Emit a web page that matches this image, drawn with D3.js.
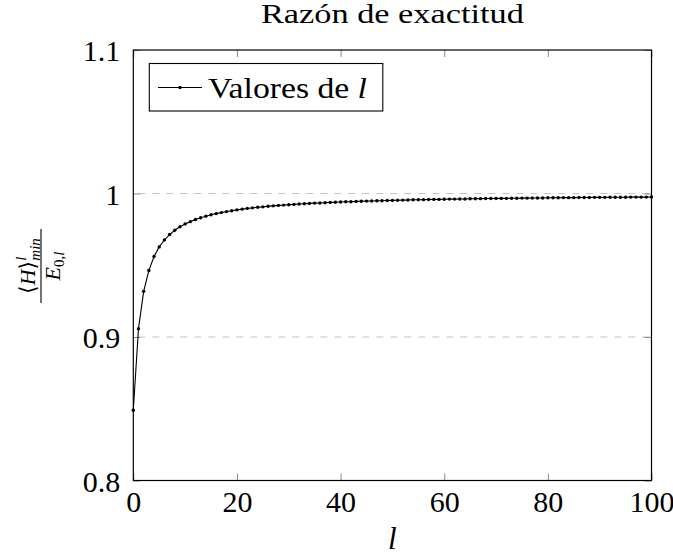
<!DOCTYPE html>
<html>
<head>
<meta charset="utf-8">
<script src="https://cdn.jsdelivr.net/npm/d3@7"></script>
<style>
  body { margin: 0; background: #fff; }
  svg text { font-family: "Liberation Serif", "DejaVu Serif", serif; fill: #000; }
</style>
</head>
<body>
<svg id="chart" width="673" height="560"></svg>
<script>
// l = 0..100, ratio <H>^l_min / E_0,l
var lValues = d3.range(0, 101);
var ratio = [
  0.8490, 0.9058, 0.9318, 0.9463, 0.9561, 0.9628, 0.9676, 0.9714, 0.9744, 0.9768,
  0.9788, 0.9804, 0.9819, 0.9831, 0.9842, 0.9852, 0.9860, 0.9867, 0.9874, 0.9880,
  0.9886, 0.9891, 0.9896, 0.9900, 0.9904, 0.9907, 0.9911, 0.9914, 0.9917, 0.9919,
  0.9922, 0.9924, 0.9927, 0.9929, 0.9931, 0.9933, 0.9934, 0.9936, 0.9938, 0.9939,
  0.9941, 0.9942, 0.9943, 0.9945, 0.9946, 0.9947, 0.9948, 0.9949, 0.9950, 0.9951,
  0.9952, 0.9953, 0.9954, 0.9955, 0.9956, 0.9956, 0.9957, 0.9958, 0.9959, 0.9959,
  0.9960, 0.9961, 0.9961, 0.9962, 0.9962, 0.9963, 0.9963, 0.9964, 0.9965, 0.9965,
  0.9966, 0.9966, 0.9966, 0.9967, 0.9967, 0.9968, 0.9968, 0.9969, 0.9969, 0.9969,
  0.9970, 0.9970, 0.9970, 0.9971, 0.9971, 0.9971, 0.9972, 0.9972, 0.9972, 0.9973,
  0.9973, 0.9973, 0.9974, 0.9974, 0.9974, 0.9974, 0.9975, 0.9975, 0.9975, 0.9975,
  0.9976
];
var xTicks = [0, 20, 40, 60, 80, 100];
var yTicks = [0.8, 0.9, 1.0, 1.1];
var yGrid = [0.9, 1.0];

var svg = d3.select("#chart");

var pLeft = 133.3, pRight = 651.5, pTop = 50, pBottom = 480.5;

var x = d3.scaleLinear().domain([0, 100]).range([pLeft, pRight]);
var y = d3.scaleLinear().domain([0.8, 1.1]).range([pBottom, pTop]);

// grid
svg.append("g")
  .selectAll("line")
  .data(yGrid).enter()
  .append("line")
  .attr("x1", pLeft).attr("x2", pRight)
  .attr("y1", function(d) { return y(d); })
  .attr("y2", function(d) { return y(d); })
  .attr("stroke", "#c4c4c4")
  .attr("stroke-width", 1)
  .attr("stroke-dasharray", "7,7")
  .attr("stroke-dashoffset", -5);

// axes with inward ticks (top/bottom/left/right)
var tickLen = 7;
var xb = svg.append("g").attr("transform", "translate(0," + pBottom + ")")
  .call(d3.axisBottom(x).tickValues(xTicks).tickSizeInner(-tickLen).tickSizeOuter(0).tickPadding(10)
    .tickFormat(d3.format("d")));
var xt = svg.append("g").attr("transform", "translate(0," + pTop + ")")
  .call(d3.axisTop(x).tickValues(xTicks).tickSizeInner(-tickLen).tickSizeOuter(0).tickFormat(""));
var yl = svg.append("g").attr("transform", "translate(" + pLeft + ",0)")
  .call(d3.axisLeft(y).tickValues(yTicks).tickSizeInner(-tickLen).tickSizeOuter(0).tickPadding(13)
    .tickFormat(function(d) { return d === 1 ? "1" : d3.format(".1f")(d); }));
var yr = svg.append("g").attr("transform", "translate(" + pRight + ",0)")
  .call(d3.axisRight(y).tickValues(yTicks).tickSizeInner(-tickLen).tickSizeOuter(0).tickFormat(""));

[xb, xt, yl, yr].forEach(function(g) {
  g.select(".domain").remove();
  g.selectAll(".tick line").attr("stroke", "#8a8a8a").attr("stroke-width", 1);
  g.selectAll(".tick text").style("font-size", "30px").attr("fill", "#000");
});
xb.selectAll(".tick text").attr("dy", "0.71em");
yl.selectAll(".tick text").attr("dy", "0.35em");

// frame
svg.append("rect")
  .attr("x", pLeft).attr("y", pTop)
  .attr("width", pRight - pLeft).attr("height", pBottom - pTop)
  .attr("fill", "none").attr("stroke", "#000").attr("stroke-width", 1.2);

// line + markers
var pts = lValues.map(function(l, i) { return [l, ratio[i]]; });
svg.append("path")
  .datum(pts)
  .attr("fill", "none")
  .attr("stroke", "#000")
  .attr("stroke-width", 1.1)
  .attr("d", d3.line().x(function(d) { return x(d[0]); }).y(function(d) { return y(d[1]); }));
svg.append("g")
  .selectAll("circle")
  .data(pts).enter()
  .append("circle")
  .attr("cx", function(d) { return x(d[0]); })
  .attr("cy", function(d) { return y(d[1]); })
  .attr("r", 1.7)
  .attr("fill", "#000");

// title
svg.append("text")
  .attr("x", (pLeft + pRight) / 2).attr("y", 23)
  .attr("text-anchor", "middle")
  .attr("textLength", 263).attr("lengthAdjust", "spacingAndGlyphs")
  .style("font-size", "27px")
  .text("Razón de exactitud");

// x label
svg.append("text")
  .attr("x", (pLeft + pRight) / 2).attr("y", 549)
  .attr("text-anchor", "middle")
  .style("font-size", "31px").style("font-style", "italic")
  .text("l");

// y label: fraction, rotated
var yg = svg.append("g").attr("transform", "translate(41,266) rotate(-90)");
yg.append("line")
  .attr("x1", -37).attr("x2", 37).attr("y1", 0).attr("y2", 0)
  .attr("stroke", "#000").attr("stroke-width", 1.1);
var num = yg.append("text").attr("x", 0).attr("y", -6).attr("text-anchor", "middle").style("font-size", "22px");
num.append("tspan").text("⟨");
num.append("tspan").style("font-style", "italic").text("H");
num.append("tspan").text("⟩");
num.append("tspan").attr("dy", -9).style("font-size", "15px").style("font-style", "italic").text("l");
num.append("tspan").attr("dx", -4).attr("dy", 14).style("font-size", "15px").style("font-style", "italic").text("min");
var den = yg.append("text").attr("x", 0).attr("y", 19).attr("text-anchor", "middle").style("font-size", "22px");
den.append("tspan").style("font-style", "italic").text("E");
den.append("tspan").attr("dy", 4).style("font-size", "15px").text("0,");
den.append("tspan").style("font-size", "15px").style("font-style", "italic").text("l");

// legend
var lg = svg.append("g");
lg.append("rect")
  .attr("x", 149.3).attr("y", 63.5).attr("width", 233.5).attr("height", 47.5)
  .attr("fill", "#fff").attr("stroke", "#000").attr("stroke-width", 1.1);
lg.append("line")
  .attr("x1", 158).attr("x2", 202).attr("y1", 87.5).attr("y2", 87.5)
  .attr("stroke", "#000").attr("stroke-width", 1.1);
lg.append("circle").attr("cx", 180).attr("cy", 87.5).attr("r", 1.7).attr("fill", "#000");
var lt = lg.append("text").attr("x", 208).attr("y", 98).style("font-size", "30px")
  .attr("textLength", 159).attr("lengthAdjust", "spacingAndGlyphs");
lt.append("tspan").text("Valores de ");
lt.append("tspan").style("font-style", "italic").text("l");
</script>
</body>
</html>
